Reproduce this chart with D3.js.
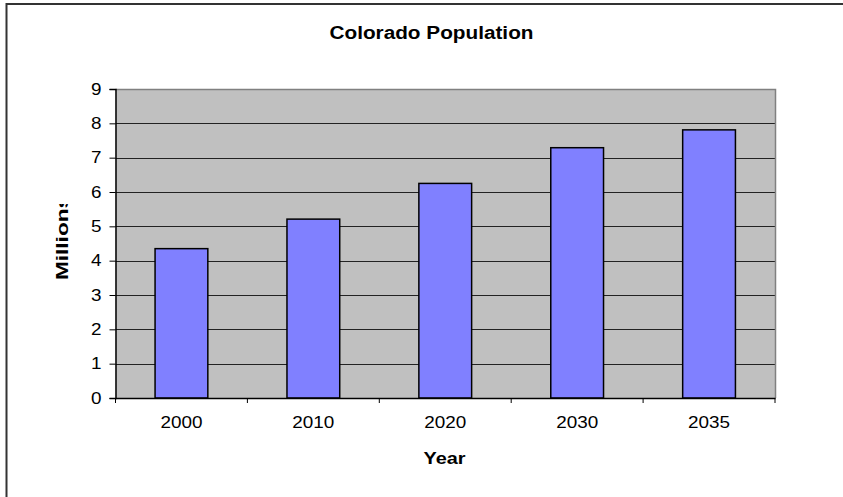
<!DOCTYPE html>
<html>
<head>
<meta charset="utf-8">
<script src="https://cdn.jsdelivr.net/npm/d3@7"></script>
<style>
html,body{margin:0;padding:0;background:#fff;}
svg{display:block;}
text{font-family:"Liberation Sans",Arial,sans-serif;fill:#000;}
</style>
</head>
<body>
<svg id="chart" width="843" height="497"></svg>
<script>
const categories = ["2000","2010","2020","2030","2035"];
const values = [4.35, 5.21, 6.25, 7.29, 7.81];
const yTicks = [0,1,2,3,4,5,6,7,8,9];
const title = "Colorado Population";
const xTitle = "Year";
const yTitle = "Millions";

const svg = d3.select("#chart");
const W = 843, H = 497;
const m = {left:115.5, right:775, top:89, bottom:398};

// outer border
svg.append("rect").attr("x",6.5).attr("y",4).attr("width",W).attr("height",H)
  .attr("fill","#fff").attr("stroke","#333").attr("stroke-width",2);

const x = d3.scaleBand().domain(categories).range([m.left, m.right]).paddingInner(0).paddingOuter(0);
const y = d3.scaleLinear().domain([0,9]).range([m.bottom, m.top]);

// plot background
svg.append("rect").attr("x",m.left).attr("y",m.top)
  .attr("width",m.right-m.left).attr("height",m.bottom-m.top)
  .attr("fill","#c0c0c0");

// gridlines
svg.append("g").selectAll("line").data(yTicks.filter(d=>d>0 && d<9)).join("line")
  .attr("x1",m.left).attr("x2",m.right)
  .attr("y1",d=>Math.round(y(d))+0.5).attr("y2",d=>Math.round(y(d))+0.5)
  .attr("stroke","#222").attr("stroke-width",1);

// plot border top/right
svg.append("path")
  .attr("d",`M${m.left},${m.top+0.5}H${m.right+0.5}V${m.bottom}`)
  .attr("fill","none").attr("stroke","#808080").attr("stroke-width",1.5);

// bars
const bw = x.bandwidth()/2.5;
svg.append("g").selectAll("rect").data(values).join("rect")
  .attr("x",(d,i)=>x(categories[i])+(x.bandwidth()-bw)/2)
  .attr("y",d=>y(d))
  .attr("width",bw)
  .attr("height",d=>y(0)-y(d))
  .attr("fill","#8080ff").attr("stroke","#000").attr("stroke-width",1.5);

// y axis
const yAxis = svg.append("g").attr("transform",`translate(${m.left},0)`)
  .call(d3.axisLeft(y).tickValues(yTicks).tickSize(6).tickPadding(8).tickFormat(d3.format("d")));
yAxis.attr("font-size",16).attr("font-family","Liberation Sans, Arial, sans-serif");
yAxis.select(".domain").attr("stroke","#000").attr("stroke-width",1.5);
yAxis.selectAll(".tick line").attr("stroke","#000");
yAxis.selectAll(".tick text").attr("font-size",16).style("font-size","16px")
  .attr("textLength",10.5).attr("lengthAdjust","spacingAndGlyphs");

// x axis
const xAxis = svg.append("g").attr("transform",`translate(0,${m.bottom})`)
  .call(d3.axisBottom(x).tickSize(0).tickPadding(18));
xAxis.attr("font-size",17).attr("font-family","Liberation Sans, Arial, sans-serif");
xAxis.select(".domain").attr("stroke","#000").attr("stroke-width",1.5);
xAxis.selectAll(".tick text").attr("font-size",17).style("font-size","17px")
  .attr("textLength",42).attr("lengthAdjust","spacingAndGlyphs");
// category boundary ticks
const bounds = categories.map(c=>x(c)).concat([m.right]);
svg.append("g").selectAll("line").data(bounds).join("line")
  .attr("x1",d=>d).attr("x2",d=>d).attr("y1",m.bottom).attr("y2",m.bottom+5)
  .attr("stroke","#000").attr("stroke-width",1);

// title
svg.append("text").attr("x",431.5).attr("y",39).attr("text-anchor","middle")
  .attr("font-weight","bold").style("font-size","18px")
  .attr("textLength",204).attr("lengthAdjust","spacingAndGlyphs").text(title);

// x title
svg.append("text").attr("x",444.5).attr("y",464).attr("text-anchor","middle")
  .attr("font-weight","bold").style("font-size","17px")
  .attr("textLength",42).attr("lengthAdjust","spacingAndGlyphs").text(xTitle);

// y title (clipped at top as in reference)
svg.append("clipPath").attr("id","yclip").append("rect")
  .attr("x",0).attr("y",204).attr("width",110).attr("height",200);
svg.append("g").attr("clip-path","url(#yclip)")
  .append("text").attr("transform","translate(68,280) rotate(-90)")
  .attr("text-anchor","start").attr("font-weight","bold").style("font-size","17px")
  .attr("textLength",84).attr("lengthAdjust","spacingAndGlyphs").text(yTitle);
</script>
</body>
</html>
